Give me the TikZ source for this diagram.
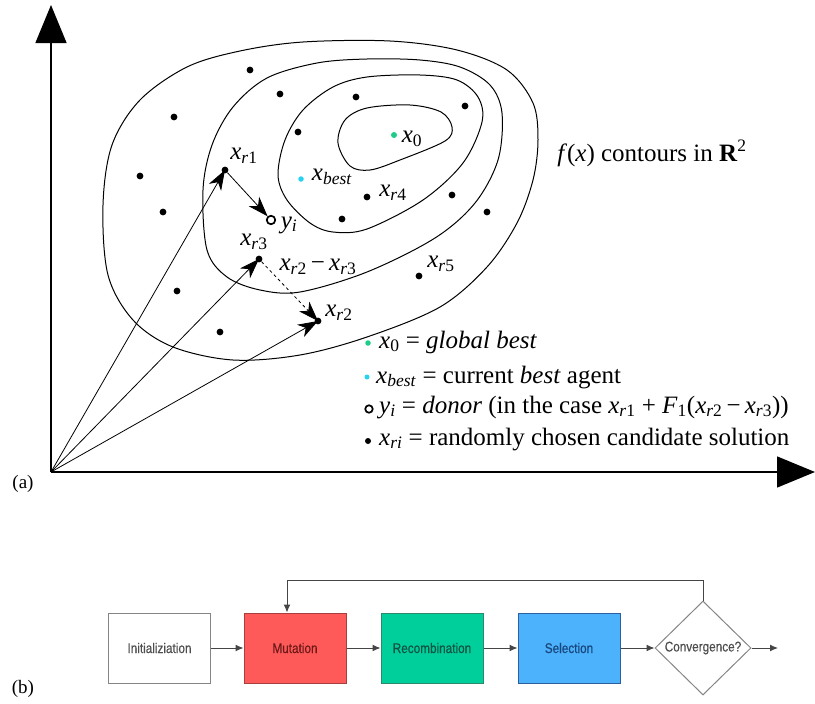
\documentclass[tikz,border=0pt]{standalone}
\usepackage{fontspec}
\setmainfont{Liberation Serif}
\newfontfamily\flowfont[FakeStretch=0.84,FakeBold=0.4]{Liberation Sans}
\usepackage{tikz}
\usetikzlibrary{arrows.meta,shapes.geometric,positioning,calc}

\definecolor{bestgreen}{HTML}{1ECC8A}
\definecolor{bestcyan}{HTML}{2AD2F2}
\definecolor{initgray}{HTML}{858585}
\definecolor{inittext}{HTML}{4E4E4E}
\definecolor{mutfill}{HTML}{FF5A5A}
\definecolor{mutedge}{HTML}{A83E3E}
\definecolor{muttext}{HTML}{6E1818}
\definecolor{recfill}{HTML}{00CF9C}
\definecolor{recedge}{HTML}{2C8A6A}
\definecolor{rectext}{HTML}{0F5442}
\definecolor{selfill}{HTML}{4DB2FC}
\definecolor{seledge}{HTML}{2C5F9E}
\definecolor{seltext}{HTML}{17457C}
\definecolor{flowline}{HTML}{454545}

% italic variables set in the text font
\newcommand{\vx}[1]{\textit{x}\textsubscript{#1}}
\newcommand{\vr}[1]{\vx{\textit{r}#1}}

\begin{document}
\begin{tikzpicture}[x=1pt,y=-1pt]
\tikzstyle{every node}+=[inner sep=0pt]
\tikzstyle{txt}=[font=\fontsize{25}{30}\selectfont]
\tikzstyle{legend}=[txt,anchor=base west,text height=17pt,text depth=6pt]
\tikzstyle{agent}=[circle,fill=black,minimum size=6.8pt]
\tikzstyle{contour}=[black,line width=1pt]
\tikzstyle{axis}=[black,line width=1.5pt,-{Triangle[length=38pt,width=31pt]}]
\tikzstyle{move}=[black,line width=0.8pt,-{Stealth[length=20pt,width=14pt,inset=6pt]}]
\tikzstyle{stage}=[draw,line width=1pt,minimum width=102pt,minimum height=70pt,font=\flowfont\fontsize{14}{16}\selectfont]
\tikzstyle{flow}=[flowline,line width=1pt,-{Latex[length=8pt,width=7pt]}]
\useasboundingbox (0,0) rectangle (815,704);

% axes
\coordinate (O) at (51,472);
\coordinate (ytip) at (51,5);
\coordinate (xtip) at (815,472);
\draw[axis] (O) -- (ytip);
\draw[axis] (O) -- (xtip);
\node[font=\fontsize{19}{22}\selectfont] (pa) at (23,484) {(a)};

% contours of f
\draw[contour] plot[smooth cycle,tension=0.55] coordinates {(103,205) (112,145) (140,100) (187,67) (240,51) (303,42) (390,41) (457,50) (507,70) (533,103) (538,140) (533,180) (517,223) (487,267) (440,307) (367,337) (300,355) (233,360) (173,347) (133,320) (108,275)};
\draw[contour] plot[smooth cycle,tension=0.55] coordinates {(203,190) (212,145) (233,107) (267,78) (317,63) (367,59) (420,60) (460,67) (490,85) (502,113) (498,160) (475,203) (435,238) (367,272) (300,292) (260,290) (227,277) (207,250)};
\draw[contour] plot[smooth cycle,tension=0.55] coordinates {(278,175) (285,140) (303,110) (333,87) (367,77) (420,75) (457,80) (478,97) (482,122) (463,163) (423,200) (367,229) (333,232) (310,223) (287,200)};
\draw[contour] plot[smooth cycle,tension=0.55] coordinates {(338,143) (345,120) (367,108) (410,105) (441,112) (452,127) (445,141) (400,160) (370,170) (350,166)};

% population
\node[agent] (p1) at (250,70) {};
\node[agent] (p2) at (174,117) {};
\node[agent] (p3) at (280,94) {};
\node[agent] (p4) at (356,97) {};
\node[agent] (p5) at (465,106) {};
\node[agent] (p6) at (298,132) {};
\node[agent] (p7) at (140,176) {};
\node[agent] (p8) at (163,212) {};
\node[agent] (p9) at (342,219) {};
\node[agent] (p10) at (452,195) {};
\node[agent] (p11) at (487,212) {};
\node[agent] (p12) at (177,291) {};
\node[agent] (p13) at (220,332) {};
\node[agent,fill=bestgreen,minimum size=6pt] (x0) at (394,135) {};
\node[agent,fill=bestcyan,minimum size=5.5pt] (xbest) at (301,179) {};
\node[agent] (xr1) at (225,170) {};
\node[agent] (xr2) at (318,321) {};
\node[agent] (xr3) at (259,259) {};
\node[agent] (xr4) at (367,197) {};
\node[agent] (xr5) at (419,276) {};
\node[circle,draw,line width=1.7pt,fill=white,minimum size=8.5pt] (yi) at (271,220) {};

\node[txt] (lx0) at (412,139) {\vx{0}};
\node[txt] (lxbest) at (332,177) {\vx{\textit{best}}};
\node[txt] (lxr1) at (244,156) {\vr{1}};
\node[txt] (lxr2) at (339,313) {\vr{2}};
\node[txt] (lxr3) at (254,242) {\vr{3}};
\node[txt] (lxr4) at (393,193) {\vr{4}};
\node[txt] (lxr5) at (441,264) {\vr{5}};
\node[txt] (lyi) at (289,225) {\textit{y}\textsubscript{\textit{i}}};
\node[txt] (ldiff) at (318,267) {\vr{2}\,−\,\vr{3}};

% mutation vectors
\draw[move] (O) -- (xr1.center);
\draw[move] (O) -- (xr3.center);
\draw[move] (O) -- (xr2.center);
\draw[move] (xr1) -- (yi);
\draw[move,dashed,dash pattern=on 3pt off 3pt] (xr3) -- (xr2.center);

\node[txt,anchor=base] (title) at (652,161) {\textit{f}(\textit{x}) contours in \textbf{R}\textsuperscript{2}};

% legend
\node[agent,fill=bestgreen,minimum size=5.5pt] (k1) at (368,343) {};
\node[agent,fill=bestcyan,minimum size=5pt] (k2) at (367,377) {};
\node[circle,draw,line width=1.7pt,fill=white,minimum size=7.5pt] (k3) at (369,409) {};
\node[agent,minimum size=6pt] (k4) at (368,441) {};
\node[legend] (leg1) at (379,348) {\vx{0} = \textit{global best}};
\node[legend] (leg2) at (376,383) {\vx{\textit{best}} = current \textit{best} agent};
\node[legend] (leg3) at (379,413) {\textit{y}\textsubscript{\textit{i}} = \textit{donor} (in the case \vr{1} + \textit{F}\textsubscript{1}(\vr{2}\,−\,\vr{3}))};
\node[legend] (leg4) at (379,445) {\vx{\textit{ri}} = randomly chosen candidate solution};

% (b) flow of the algorithm
\node[font=\fontsize{19}{22}\selectfont] (pb) at (23,689) {(b)};
\node[stage,draw=initgray,text=inittext] (init) at (159.5,648) {Initializiation};
\node[stage,right=32.5pt of init,fill=mutfill,draw=mutedge,text=muttext] (mut) {Mutation};
\node[stage,right=34pt of mut,fill=recfill,draw=recedge,text=rectext] (rec) {Recombination};
\node[stage,right=34pt of rec,fill=selfill,draw=seledge,text=seltext] (sel) {Selection};
\node[diamond,draw=initgray,line width=1pt,minimum width=96pt,minimum height=94pt,right=34pt of sel,text=inittext,font=\flowfont\fontsize{14}{16}\selectfont] (conv) {Convergence?};
\coordinate (fb) at (287,580);
\coordinate (done) at (778,648);
\draw[flow] (init) -- (mut);
\draw[flow] (mut) -- (rec);
\draw[flow] (rec) -- (sel);
\draw[flow] (sel) -- (conv);
\draw[flow] (conv) -- (done);
\draw[flow] (conv.north) |- (fb) -- (fb |- mut.north);
\end{tikzpicture}
\end{document}
